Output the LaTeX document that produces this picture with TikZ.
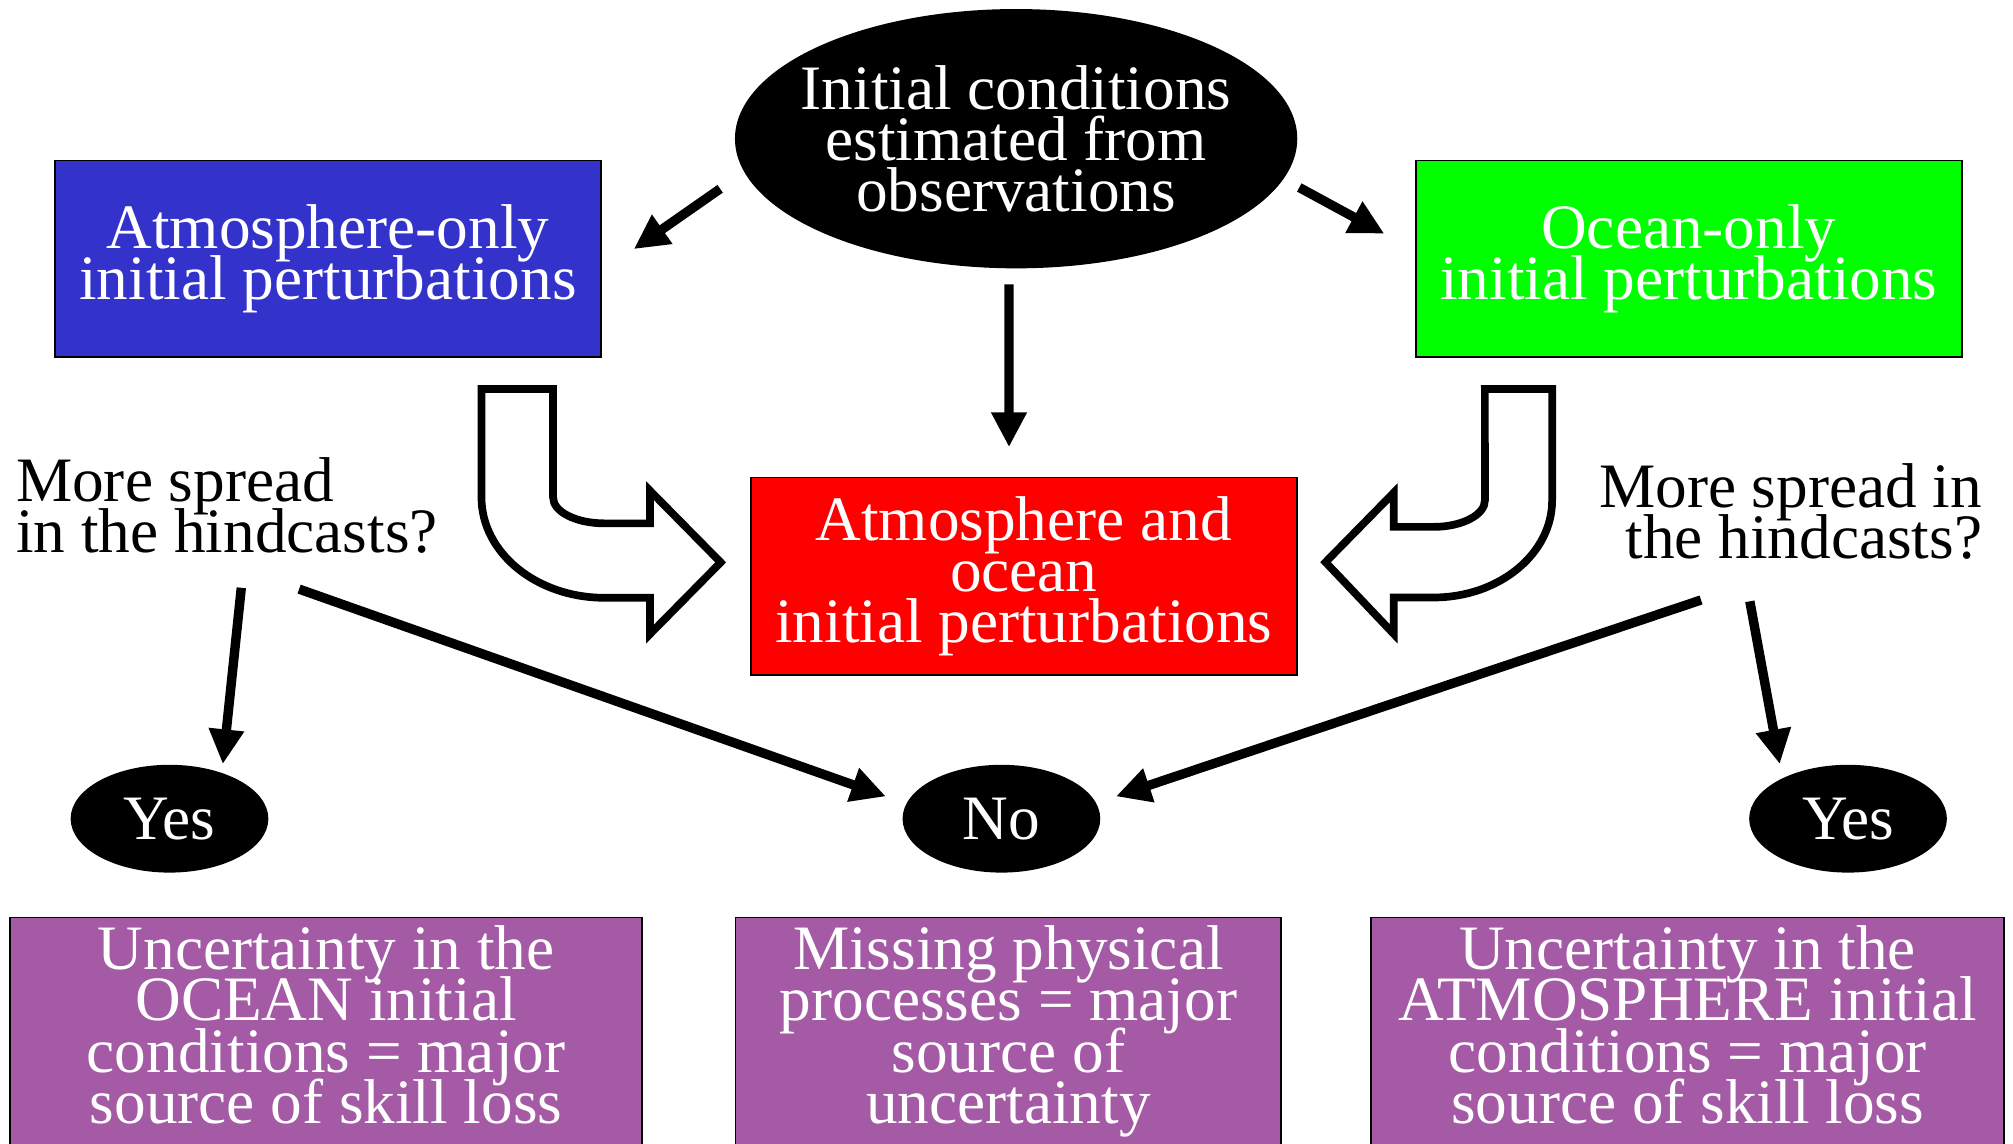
\documentclass[tikz,border=0pt]{standalone}
\usepackage{fontspec}
\setmainfont{Liberation Serif}
\usepackage{tikz}
\usetikzlibrary{shapes.geometric,arrows.meta,calc}
\definecolor{atmblue}{RGB}{51,51,204}
\definecolor{ocngreen}{RGB}{0,255,0}
\definecolor{bothred}{RGB}{255,0,0}
\definecolor{uncpurple}{RGB}{165,90,165}
\setlength{\lineskiplimit}{-50pt}

\begin{document}
\begin{tikzpicture}[
  txt/.style={font=\fontsize{18}{14.6}\selectfont, align=center},
  pbox/.style={txt, draw=black, line width=0.5pt, text=white, inner sep=0, minimum width=5.456cm},
  blob/.style={txt, ellipse, fill=black, text=white, inner sep=0},
  arr/.style={line width=0.094cm, -{Triangle[length=0.347cm,width=0.334cm]}},
  fat/.style={draw=black, fill=white, line width=0.077cm, line join=miter}]
\useasboundingbox (0,0) rectangle (20.13,11.43);
\clip (0,0) rectangle (20.13,11.43);

\node[blob, minimum width=5.623cm, minimum height=2.593cm, inner xsep=-0.17cm] (init) at (10.161,10.043) {Initial conditions\\estimated from\\observations};
\node[pbox, fill=atmblue, minimum height=1.964cm] (atm) at (3.280,8.843) {Atmosphere-only\\initial perturbations};
\node[pbox, fill=ocngreen, minimum height=1.964cm] (ocn) at (16.888,8.843) {Ocean-only\\initial perturbations};
\node[pbox, fill=bothred, minimum height=1.977cm] (both) at (10.238,5.666) {Atmosphere and\\ocean\\initial perturbations};

\node[txt, align=left, anchor=north west, inner sep=0] (hindL) at (0.154,6.861) {More spread\\in the hindcasts?};
\node[txt, align=right, anchor=north east, inner sep=0] (hindR) at (19.828,6.803) {More spread in\\the hindcasts?};

\node[blob, minimum width=1.977cm, minimum height=1.078cm] (yesL) at (1.695,3.243) {Yes};
\node[blob, minimum width=1.977cm, minimum height=1.078cm] (no) at (10.014,3.243) {No};
\node[blob, minimum width=1.977cm, minimum height=1.078cm] (yesR) at (18.480,3.243) {Yes};

% bottom boxes run off the page
\node[pbox, fill=uncpurple, anchor=north, minimum width=6.316cm, inner ysep=0.082cm, text depth=2cm] (uncO) at (3.261,2.264) {Uncertainty in the\\OCEAN initial\\conditions = major\\source of skill loss};
\node[pbox, fill=uncpurple, anchor=north, inner ysep=0.082cm, text depth=2cm] (miss) at (10.084,2.264) {Missing physical\\processes = major\\source of\\uncertainty};
\node[pbox, fill=uncpurple, anchor=north, minimum width=6.329cm, inner ysep=0.082cm, text depth=2cm] (uncA) at (16.876,2.264) {Uncertainty in the\\ATMOSPHERE initial\\conditions = major\\source of skill loss};

\draw[arr] ($(init.west)+(-0.141,-0.501)$) -- ($(atm.east)+(0.321,0.096)$);
\draw[arr] ($(init.east)+(0.013,-0.488)$) -- ($(ocn.west)+(-0.308,0.250)$);
\draw[arr] ($(init.south)+(-0.071,-0.154)$) -- ($(both.north)+(-0.148,0.295)$);

\draw[arr] ($(hindL.south west)+(2.259,-0.334)$) -- ($(yesL.north)+(0.533,0)$);
\draw[arr] ($(hindL.south west)+(2.837,-0.347)$) -- ($(no.west)+(-0.160,0.223)$);
\draw[arr] ($(hindR.south east)+(-2.818,-0.398)$) -- ($(no.east)+(0.150,0.223)$);
\draw[arr] ($(hindR.south east)+(-2.330,-0.411)$) -- ($(yesR.north)+(-0.683,0)$);

% hollow bent arrows into the middle box
\draw[fat] ($(atm.south east)+(-1.202,-0.313)$) -- ++(0.716,0) -- ++(0,-1.084)
  arc[start angle=180, end angle=270, x radius=0.514, y radius=0.259]
  -- ++(0.456,0) -- ++(0,0.326) -- ++(0.706,-0.716) -- ++(-0.706,-0.716) -- ++(0,0.362) -- ++(-0.456,0)
  arc[start angle=270, end angle=180, x radius=1.230, y radius=1.004] -- cycle;
\draw[fat] ($(ocn.south west)+(0.697,-0.313)$) -- ++(0.673,0) -- ++(0,-1.112)
  arc[start angle=0, end angle=-90, x radius=1.186, y radius=0.972]
  -- ++(-0.397,0) -- ++(0,-0.366) -- ++(-0.683,0.719) -- ++(0.683,0.696) -- ++(0,-0.343) -- ++(0.397,0)
  arc[start angle=-90, end angle=0, x radius=0.514, y radius=0.266] -- cycle;
\end{tikzpicture}
\end{document}
